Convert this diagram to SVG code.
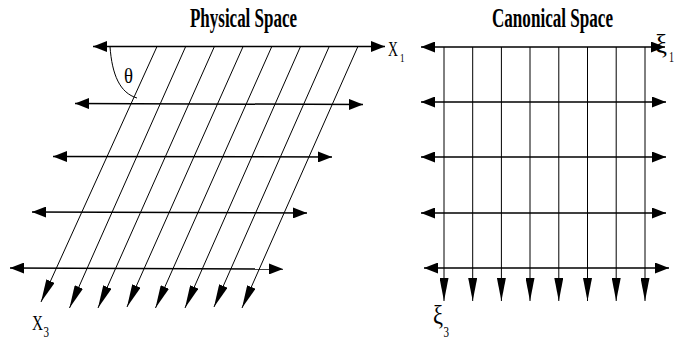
<svg xmlns="http://www.w3.org/2000/svg" width="678" height="345" viewBox="0 0 678 345">
<style>
.h{stroke:#000;stroke-width:1.5;fill:none;marker-start:url(#ah);marker-end:url(#ah)}
.s{stroke:#000;stroke-width:1;fill:none;marker-end:url(#as)}
.t{font-family:"Liberation Serif","Times New Roman",serif;fill:#000}
.title{font-size:27px;font-weight:bold}
</style>
<defs>
<marker id="ah" markerUnits="userSpaceOnUse" markerWidth="14" markerHeight="11" refX="14" refY="5.5" orient="auto-start-reverse" viewBox="0 0 14 11"><path d="M0,0 L14,5.5 L0,11 z" fill="#000"/></marker>
<marker id="as" markerUnits="userSpaceOnUse" markerWidth="23" markerHeight="9" refX="23" refY="4.5" orient="auto" viewBox="0 0 23 9"><path d="M0,0 L23,4.5 L0,9 z" fill="#000"/></marker>
</defs>
<rect width="678" height="345" fill="#fff"/>
<g id="physical-title"><text class="t title" x="190" y="27" textLength="107" lengthAdjust="spacingAndGlyphs">Physical Space</text></g>
<g id="canonical-title"><text class="t title" x="492" y="27" textLength="121" lengthAdjust="spacingAndGlyphs">Canonical Space</text></g>
<g id="connectors">
<g id="physical-rows">
<line class="h" x1="93" y1="46.5" x2="385" y2="46.5"/>
<line class="h" x1="75" y1="103.5" x2="363" y2="104.5"/>
<line class="h" x1="53" y1="156.5" x2="332" y2="157"/>
<line class="h" x1="32" y1="212" x2="307" y2="213"/>
<line class="h" x1="10" y1="268" x2="283" y2="269"/>
</g>
<g id="physical-slants">
<line class="s" x1="157" y1="46.5" x2="41" y2="302"/>
<line class="s" x1="185.7" y1="46.5" x2="69.5" y2="308"/>
<line class="s" x1="214.4" y1="46.5" x2="98" y2="308"/>
<line class="s" x1="243.1" y1="46.5" x2="127" y2="307"/>
<line class="s" x1="271.8" y1="46.5" x2="155.5" y2="308"/>
<line class="s" x1="300.5" y1="46.5" x2="185" y2="308"/>
<line class="s" x1="329.2" y1="46.5" x2="214" y2="307"/>
<line class="s" x1="357.9" y1="46.5" x2="242" y2="308"/>
</g>
<path d="M110,46.5 C112,75 120,93 137,98" stroke="#000" stroke-width="1" fill="none"/>
<g id="canonical-rows">
<line class="h" x1="421" y1="47" x2="665" y2="47"/>
<line class="h" x1="421" y1="102" x2="666" y2="102"/>
<line class="h" x1="421" y1="157" x2="666" y2="157"/>
<line class="h" x1="421" y1="213" x2="666" y2="213"/>
<line class="h" x1="424" y1="268" x2="669" y2="268"/>
</g>
<g id="canonical-verticals">
<line class="s" x1="444" y1="47" x2="444" y2="301"/>
<line class="s" x1="472.7" y1="47" x2="472.7" y2="301"/>
<line class="s" x1="501.4" y1="47" x2="501.4" y2="301"/>
<line class="s" x1="530" y1="47" x2="530" y2="301"/>
<line class="s" x1="558.8" y1="47" x2="558.8" y2="301"/>
<line class="s" x1="587.5" y1="47" x2="587.5" y2="301"/>
<line class="s" x1="616.2" y1="47" x2="616.2" y2="301"/>
<line class="s" x1="645" y1="47" x2="645" y2="301"/>
</g>
</g>
<g id="theta"><text class="t" x="124" y="83" font-size="21" textLength="9" lengthAdjust="spacingAndGlyphs">θ</text></g>
<g id="x1-label"><text class="t" x="388" y="56" font-size="20" textLength="10" lengthAdjust="spacingAndGlyphs">X</text><text class="t" x="400" y="62" font-size="13" textLength="4.5" lengthAdjust="spacingAndGlyphs">1</text></g>
<g id="x3-label"><text class="t" x="32" y="330" font-size="22" textLength="11" lengthAdjust="spacingAndGlyphs">X</text><text class="t" x="43.5" y="337" font-size="15" textLength="5.5" lengthAdjust="spacingAndGlyphs">3</text></g>
<g id="xi1-label"><text class="t" x="655" y="53" font-size="27" textLength="12" lengthAdjust="spacingAndGlyphs">ξ</text><text class="t" x="669" y="62" font-size="14" textLength="5" lengthAdjust="spacingAndGlyphs">1</text></g>
<g id="xi3-label"><text class="t" x="433" y="324" font-size="28" textLength="10" lengthAdjust="spacingAndGlyphs">ξ</text><text class="t" x="443.5" y="337" font-size="15" textLength="5.5" lengthAdjust="spacingAndGlyphs">3</text></g>
</svg>
